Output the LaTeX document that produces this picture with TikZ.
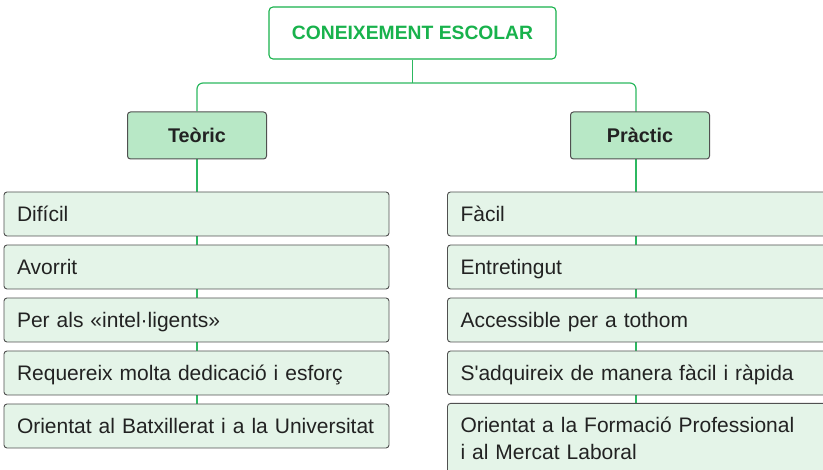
\documentclass[tikz,border=0pt]{standalone}
\usepackage{fontspec}
\setmainfont{Liberation Sans}
\usetikzlibrary{backgrounds}
\definecolor{tgreen}{RGB}{24,178,76}
\definecolor{lgreen}{RGB}{44,184,96}
\definecolor{hfill}{RGB}{184,232,198}
\definecolor{ifill}{RGB}{228,244,232}
\definecolor{bord}{RGB}{80,80,80}
\definecolor{txt}{RGB}{34,34,34}
\tikzset{
  titlebox/.style={draw=tgreen, line width=1.1pt, rounded corners=4pt, fill=white,
    minimum width=287pt, minimum height=52pt, font=\fontsize{19.3}{23}\selectfont\bfseries, text=tgreen},
  headbox/.style={draw=bord, line width=1pt, rounded corners=3pt, fill=hfill,
    minimum width=139pt, minimum height=47pt, font=\fontsize{19.8}{23}\selectfont\bfseries, text=txt},
  itembox/.style={draw=bord, line width=0.9pt, rounded corners=3pt, fill=ifill,
    minimum height=44pt, text width=359pt, inner xsep=13pt, align=left,
    text height=20pt, text depth=5pt,
    font=\fontsize{21}{27}\selectfont, text=txt},
  conn/.style={draw=lgreen, line width=1.2pt}
}
\begin{document}
\begin{tikzpicture}[x=1pt,y=-1pt]
\useasboundingbox (0,0) rectangle (823,470);
\clip (0,0) rectangle (823,470);
\node[titlebox] (top) at (412.5,33) {CONEIXEMENT ESCOLAR};
\node[headbox] (teo) at (197,135.5) {Teòric};
\node[headbox] (pra) at (640,135.5) {Pràctic};
\coordinate (hub) at (412.5,83);
\coordinate (ptop) at (636,112);
\coordinate (pbot) at (636,159);

\node[itembox] (l1) at (196.5,214) {Difícil};
\node[itembox] (l2) at (196.5,267) {Avorrit};
\node[itembox] (l3) at (196.5,320) {Per als «intel·ligents»};
\node[itembox] (l4) at (196.5,373) {Requereix molta dedicació i esforç};
\node[itembox] (l5) at (196.5,426) {Orientat al Batxillerat i a la Universitat};

\node[itembox] (r1) at (640,214) {Fàcil};
\node[itembox] (r2) at (640,267) {Entretingut};
\node[itembox] (r3) at (640,320) {Accessible per a tothom};
\node[itembox] (r4) at (640,373) {S\textquotesingle adquireix de manera fàcil i ràpida};
\node[itembox, anchor=north, inner ysep=14pt, text height=15.5pt, text depth=50pt] (r5) at (640,403) {Orientat a la Formació Professional\\i al Mercat Laboral};

\begin{scope}[on background layer]
\draw[conn] (top.south) -- (hub);
\draw[conn, rounded corners=6pt] (teo.north) |- (hub) -| (ptop);
\draw[conn] (teo.south) -- (teo.south |- l5.north);
\draw[conn] (pbot) -- (pbot |- r5.north);
\end{scope}
\end{tikzpicture}
\end{document}
